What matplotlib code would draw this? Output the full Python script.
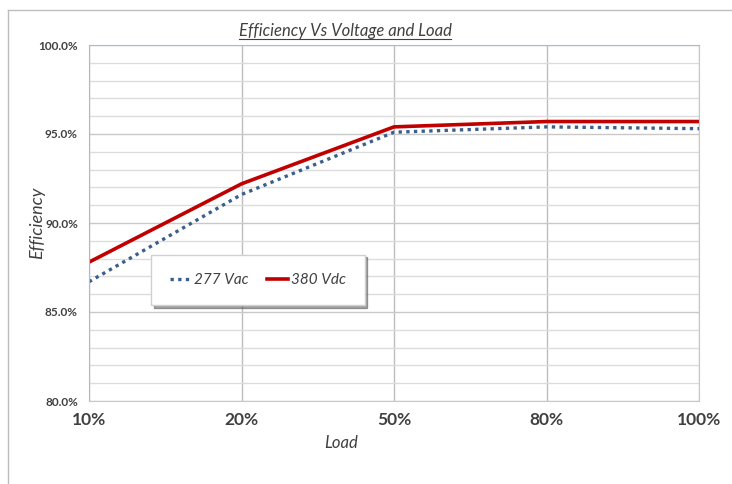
import matplotlib.pyplot as plt
from matplotlib.lines import Line2D
from matplotlib.ticker import MultipleLocator, FuncFormatter

plt.rcParams['font.family'] = ['Lato', 'DejaVu Sans']

# Data
loads = ['10%', '20%', '50%', '80%', '100%']
vac_277 = [86.7, 91.6, 95.1, 95.4, 95.3]
vdc_380 = [87.8, 92.2, 95.4, 95.7, 95.7]

fig = plt.figure(figsize=(7.32, 4.84), dpi=100)
ax = fig.add_axes([89 / 732, 1 - 401 / 484, 610 / 732, 356 / 484])

x = range(len(loads))
ax.plot(x, vac_277, color='#3b5f8c', lw=2.4, linestyle=(0, (1, 1.3)), label='277 Vac')
ax.plot(x, vdc_380, color='#c00000', lw=2.6, label='380 Vdc')

ax.set_xlim(0, len(loads) - 1)
ax.set_ylim(80, 100)
ax.set_xticks(list(x))
ax.set_xticklabels(loads, fontsize=12.5, fontweight='bold', color='#404040')
ax.yaxis.set_major_locator(MultipleLocator(5))
ax.yaxis.set_minor_locator(MultipleLocator(1))
ax.yaxis.set_major_formatter(FuncFormatter(lambda v, p: f'{v:.1f}%'))
for t in ax.get_yticklabels():
    t.set_fontsize(8.5)
    t.set_fontweight('bold')
    t.set_color('#404040')
ax.tick_params(axis='x', length=0, pad=8)
ax.tick_params(axis='y', which='both', length=0, pad=8)

ax.grid(axis='y', which='major', color='#c8c8c8', lw=1)
ax.grid(axis='y', which='minor', color='#dcdcdc', lw=1)
ax.grid(axis='x', which='major', color='#bdbdbd', lw=1)
ax.set_axisbelow(True)
for s in ['left', 'top']:
    ax.spines[s].set_color('#a9bbd1')
for s in ['right', 'bottom']:
    ax.spines[s].set_color('#c8c8c8')

ax.set_ylabel('Efficiency', fontsize=13, style='italic', color='#404040')
ax.yaxis.set_label_coords((45 - 89) / 610, 0.5)
ax.set_xlabel('Load', fontsize=12, style='italic', color='#404040')
ax.xaxis.set_label_coords(0.413, (401 - 435) / 356)

leg = ax.legend(loc='center', bbox_to_anchor=(0.277, 0.34), ncol=2, frameon=True,
                shadow=True, fancybox=False, handlelength=1.4, handletextpad=0.2,
                borderpad=1.2, columnspacing=1.2, prop={'size': 11, 'style': 'italic'})
leg.get_frame().set_edgecolor('#d0d0d0')
for t in leg.get_texts():
    t.set_color('#404040')

# Title with underline
title = fig.text(345 / 732, 1 - 31 / 484, 'Efficiency Vs Voltage and Load', ha='center', va='center',
                 fontsize=12, style='italic', color='#404040')
fig.canvas.draw()
bb = title.get_window_extent().transformed(fig.transFigure.inverted())
fig.add_artist(Line2D([bb.x0, bb.x1], [bb.y0, bb.y0], color='#404040', lw=0.8))

# Outer frame
fig.add_artist(Line2D([8 / 732, 8 / 732], [0, 1 - 10 / 484], color='#bdbdbd', lw=1))
fig.add_artist(Line2D([8 / 732, 1], [1 - 10 / 484, 1 - 10 / 484], color='#bdbdbd', lw=1))

plt.savefig('out.png', dpi=100)
